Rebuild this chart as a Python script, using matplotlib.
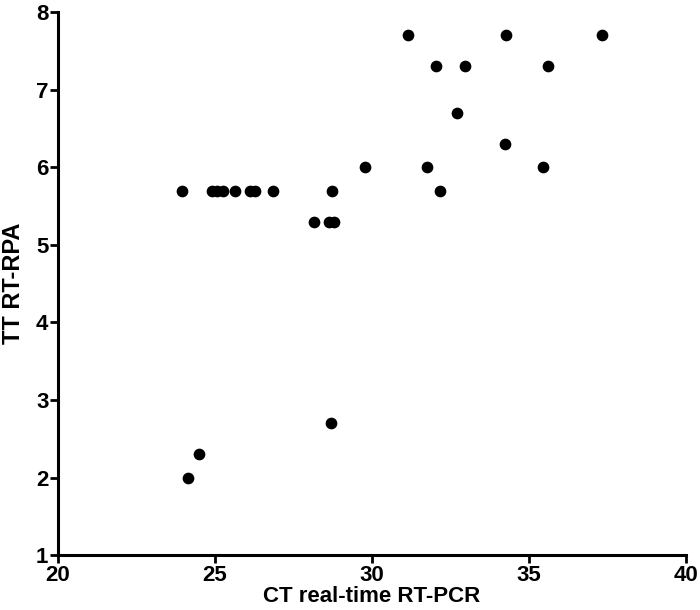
import matplotlib
matplotlib.use("Agg")
import matplotlib.pyplot as plt

ct_values = [23.94, 24.89, 25.07, 25.25, 25.64, 26.11, 26.27, 26.86, 28.72,
             29.78, 28.15, 28.63, 28.79, 31.14, 34.26, 37.34, 32.04, 32.97,
             35.61, 32.70, 34.23, 31.76, 35.44, 32.17, 28.69, 24.49, 24.15]
tt_values = [5.7, 5.7, 5.7, 5.7, 5.7, 5.7, 5.7, 5.7, 5.7,
             6.0, 5.3, 5.3, 5.3, 7.7, 7.7, 7.7, 7.3, 7.3,
             7.3, 6.7, 6.3, 6.0, 6.0, 5.7, 2.7, 2.3, 2.0]
x_ticks = [20, 25, 30, 35, 40]
y_ticks = [1, 2, 3, 4, 5, 6, 7, 8]

plt.rcParams['font.family'] = ['Liberation Sans', 'DejaVu Sans']
plt.rcParams['font.weight'] = 'bold'

fig = plt.figure(figsize=(7.0, 6.1), dpi=100)
ax = fig.add_axes([0.083, 0.09, 0.897, 0.89])
ax.scatter(ct_values, tt_values, s=55, color='black', zorder=3, clip_on=False)

ax.set_xlim(20, 40)
ax.set_ylim(1, 8)
ax.set_xticks(x_ticks)
ax.set_yticks(y_ticks)
for side in ['top', 'right']:
    ax.spines[side].set_visible(False)
for side in ['left', 'bottom']:
    ax.spines[side].set_linewidth(2.2)
ax.tick_params(axis='both', which='major', direction='out', length=6, width=2,
               pad=1, labelsize=16)

ax.set_xlabel('CT real-time RT-PCR', fontweight='bold', fontsize=16, labelpad=0)
ax.set_ylabel('TT RT-RPA', fontweight='bold', fontsize=17, labelpad=8)

fig.savefig('out.png', dpi=100)
